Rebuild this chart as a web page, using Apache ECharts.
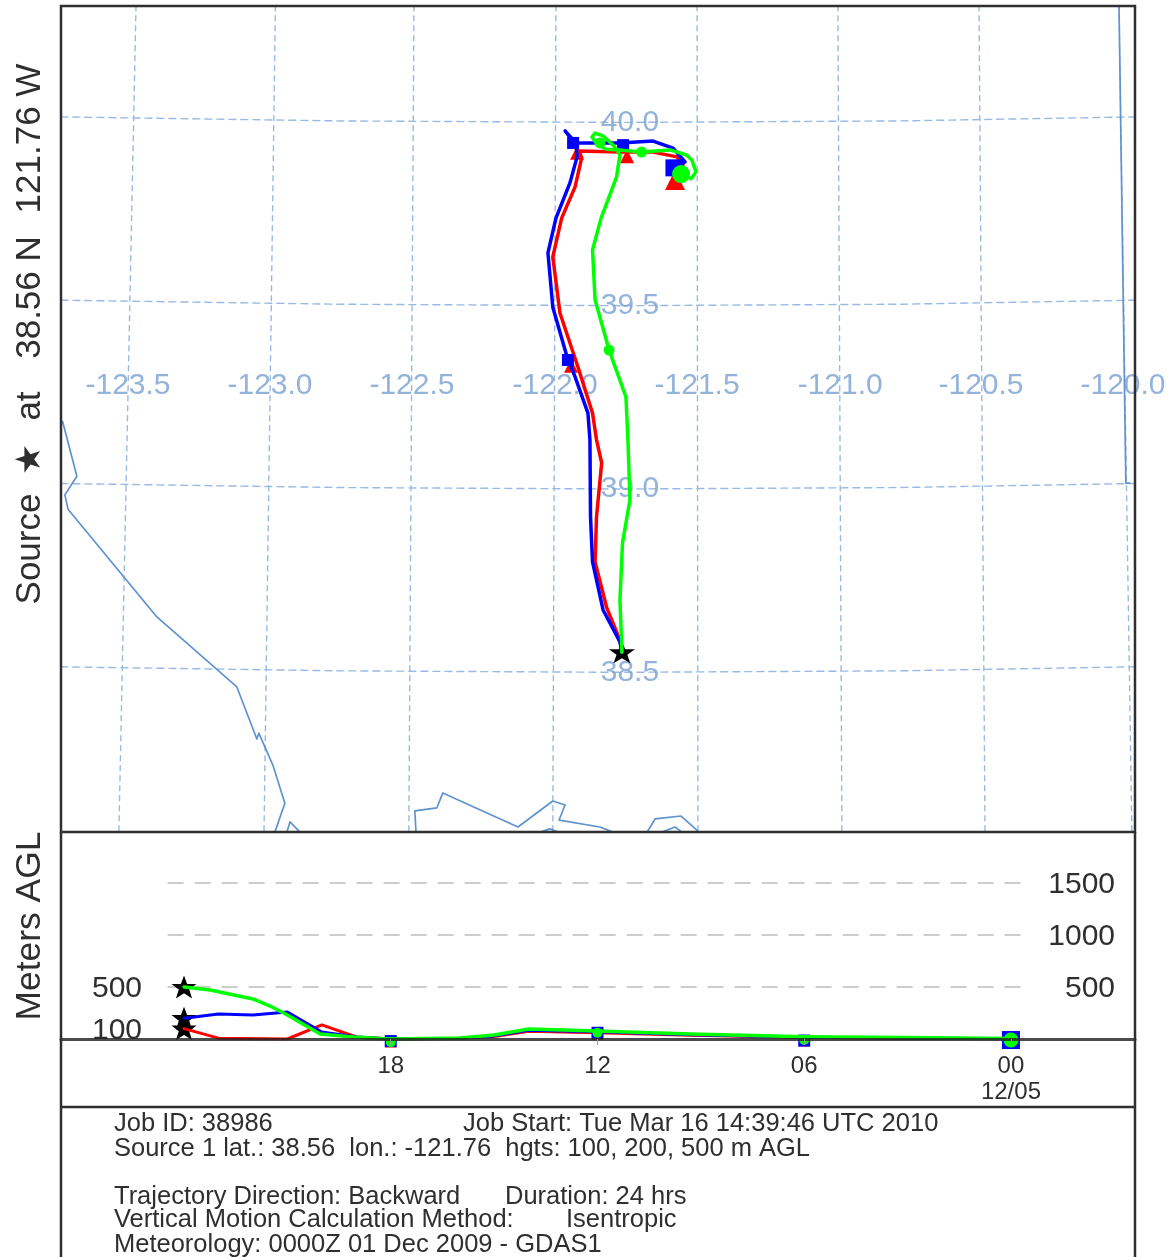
<!DOCTYPE html>
<html><head><meta charset="utf-8">
<style>html,body{margin:0;padding:0;background:#fff}#c{width:1172px;height:1257px;filter:blur(0.55px)}</style>
<script src="https://cdn.jsdelivr.net/npm/echarts@6/dist/echarts.min.js"></script>
</head><body><div id="c"></div>
<script>
// ---- plan view values: [longitude, latitude]
const sourcePoint = [[-121.762, 38.555]];
const redTrack = [[-121.762,38.555],[-121.769,38.588],[-121.816,38.678],[-121.856,38.801],[-121.851,38.924],[-121.833,39.071],[-121.851,39.134],[-121.865,39.207],[-121.916,39.333],[-121.979,39.480],[-122.004,39.633],[-121.973,39.739],[-121.926,39.824],[-121.903,39.903],[-121.912,39.922],[-121.769,39.919],[-121.653,39.919],[-121.569,39.906],[-121.548,39.884],[-121.576,39.851]];
const blueTrack = [[-121.762,38.555],[-121.769,38.583],[-121.828,38.670],[-121.865,38.801],[-121.872,38.924],[-121.874,39.134],[-121.881,39.207],[-121.926,39.306],[-121.954,39.360],[-122.004,39.496],[-122.021,39.644],[-121.993,39.739],[-121.944,39.835],[-121.919,39.906],[-121.923,39.944],[-121.944,39.960],[-121.961,39.977],[-121.923,39.944],[-121.769,39.944],[-121.653,39.949],[-121.583,39.930],[-121.541,39.892],[-121.583,39.876]];
const greenTrack = [[-121.762,38.555],[-121.769,38.697],[-121.760,38.853],[-121.734,38.970],[-121.741,39.134],[-121.748,39.251],[-121.807,39.379],[-121.856,39.516],[-121.865,39.652],[-121.835,39.739],[-121.781,39.851],[-121.769,39.911],[-121.790,39.936],[-121.828,39.963],[-121.856,39.971],[-121.867,39.960],[-121.849,39.941],[-121.818,39.927],[-121.769,39.925],[-121.693,39.919],[-121.594,39.925],[-121.536,39.911],[-121.517,39.897],[-121.503,39.865],[-121.520,39.846],[-121.555,39.862]];
const redMarks = [[-121.940,39.336],[-121.919,39.917],[-121.744,39.908]];
const redEnd = [[-121.576,39.843]];
const blueMarks = [[-121.951,39.352],[-121.933,39.944],[-121.758,39.938]];
const blueEnd = [[-121.580,39.876]];
const greenMarks = [[-121.807,39.379],[-121.839,39.944],[-121.693,39.919]];
const greenEnd = [[-121.555,39.859]];

const coastA = [[-123.720,39.184],[-123.670,39.035],[-123.712,38.984],[-123.701,38.945],[-123.390,38.651],[-123.110,38.460],[-123.040,38.318],[-123.033,38.334],[-122.984,38.247],[-122.942,38.143],[-122.977,38.064]];
const coastB = [[-122.935,38.064],[-122.924,38.092],[-122.889,38.064]];
const coastC = [[-122.483,38.064],[-122.487,38.122],[-122.410,38.130],[-122.389,38.171],[-122.126,38.078],[-122.004,38.149],[-121.961,38.138],[-121.982,38.097],[-121.839,38.078],[-121.793,38.064]];
const coastD = [[-122.049,38.064],[-122.014,38.073],[-121.986,38.064]];
const coastE = [[-121.674,38.064],[-121.646,38.100],[-121.555,38.108],[-121.492,38.064]];
const coastF = [[-121.622,38.064],[-121.576,38.078],[-121.552,38.064]];
const stateBorder = [[-120.022,40.318],[-119.998,39.016],[-119.984,39.016]];

const meridians = [
  [[-123.463,40.318],[-123.523,38.064]],
  [[-122.975,40.318],[-123.015,38.064]],
  [[-122.490,40.318],[-122.508,38.064]],
  [[-121.993,40.318],[-122.004,38.064]],
  [[-121.499,40.318],[-121.496,38.064]],
  [[-121.006,40.318],[-120.992,38.064]],
  [[-120.512,40.318],[-120.491,38.064]],
  [[-120.022,40.318],[-119.977,38.064]]
];
const parallels = [
  [[-123.726,40.015],[-122.749,40.004],[-121.769,40.000],[-120.789,40.004],[-119.966,40.015]],
  [[-123.726,39.515],[-122.749,39.504],[-121.769,39.500],[-120.789,39.504],[-119.966,39.515]],
  [[-123.726,39.015],[-122.749,39.004],[-121.769,39.000],[-120.789,39.004],[-119.966,39.015]],
  [[-123.726,38.515],[-122.749,38.504],[-121.769,38.500],[-120.789,38.504],[-119.966,38.515]]
];
const latLabels = ['40.0','39.5','39.0','38.5'];
const latLabelPoints = [[-121.734,40.004],[-121.734,39.505],[-121.734,39.005],[-121.734,38.504]];
const lonLabels = ['-123.5','-123.0','-122.5','-122.0','-121.5','-121.0','-120.5','-120.0'];
const lonLabelPoints = [[-123.491,39.286],[-122.994,39.286],[-122.497,39.286],[-121.996,39.286],[-121.499,39.286],[-120.998,39.286],[-120.505,39.286],[-120.008,39.286]];

// ---- height panel values: [hours before end, metres AGL]
const redHeight = [[24,100],[23,8],[21,0],[20,135],[19,19],[18,0],[16,6],[15,25],[14,75],[12,60],[9.3,35],[6,15],[2.3,6],[0,2]];
const blueHeight = [[24,200],[23,240],[22,231],[21,260],[20,67],[19,19],[18,0],[16,8],[15,30],[14,85],[12,70],[9.3,42],[6,18],[2.3,8],[0,3]];
const greenHeight = [[24,500],[23.24,471],[22,385],[21.5,317],[21,231],[20.5,135],[20.05,48],[19.1,19],[18,0],[16,10],[15,38],[14,96],[12,77],[9.3,48],[6,22],[2.3,12],[0,5]];
const heightStarts = [[24,100],[24,200],[24,500]];
const redHeightMarks = [[18,-25],[12,50],[6,-15]];
const blueHeightMarks = [[18,-20],[12,60],[6,-15]];
const greenHeightMarks = [[18,-30],[12,60],[6,-10]];
const redHeightEnd = [[0,-5]];
const blueHeightEnd = [[0,-10]];
const greenHeightEnd = [[0,-10]];
const heightRefLines = [[[24.46,500],[-0.5,500]],[[24.46,1000],[-0.5,1000]],[[24.46,1500],[-0.5,1500]]];
const timeTickHours = [18,12,6,0];
const timeTickLabels = ['18','12','06','00\n12/05'];
const rightHeightTicks = [500,1000,1500];
const leftHeightTicks = [100,500];

// ---- text
const sideTitleParts = [['Source',549],['\u2605',459],['at',406],['38.56 N',297.5],['121.76 W',138.5]];
const heightTitle = 'Meters AGL';
const infoLines = [
  ['Job ID: 38986',114,1122],
  ['Job Start: Tue Mar 16 14:39:46 UTC 2010',463,1122],
  ['Source 1 lat.: 38.56  lon.: -121.76  hgts: 100, 200, 500 m AGL',114,1147],
  ['Trajectory Direction: Backward',114,1195],
  ['Duration: 24 hrs',505,1195],
  ['Vertical Motion Calculation Method:',114,1218],
  ['Isentropic',566,1218],
  ['Meteorology: 0000Z 01 Dec 2009 - GDAS1',114,1243]
];

const RED='#ff0000', BLUE='#0000ff', GREEN='#00ff00', MAPBLUE='#5f93d0', GRIDBLUE='#98bae4', LABELBLUE='#78a0d2', DARK='#2f2f2f';
const FONT='"Liberation Sans", Arial, sans-serif';
const STAR='path://M50 0 L62 34 L98 34 L70 57 L81 93 L50 72 L19 93 L30 57 L2 34 L38 34 Z';

function line(data,color,width,idx,dash,z){
  return {type:'line',xAxisIndex:idx,yAxisIndex:idx,data,showSymbol:false,symbol:'none',silent:true,z:z||2,
    lineStyle:{color,width,type:dash||'solid',cap:'round',join:'round'}};
}
function marks(data,symbol,size,color,idx,z){
  return {type:'scatter',xAxisIndex:idx,yAxisIndex:idx,data,symbol,symbolSize:size,silent:true,z:z||2,clip:false,
    itemStyle:{color,opacity:1}};
}
function labels(points,texts){
  return {type:'scatter',xAxisIndex:0,yAxisIndex:0,symbolSize:1,silent:true,z:4,clip:false,itemStyle:{color:'rgba(0,0,0,0)'},
    data:points.map((p,i)=>({value:p,name:texts[i]})),
    label:{show:true,position:'inside',formatter:p=>p.name,color:LABELBLUE,fontSize:30,fontFamily:FONT,offset:[0,2]}};
}

const series=[];
meridians.forEach(m=>series.push(line(m,GRIDBLUE,1.4,0,[5,5],1)));
parallels.forEach(p=>series.push(line(p,GRIDBLUE,1.4,0,[7,5],1)));
[coastA,coastB,coastC,coastD,coastE,coastF,stateBorder].forEach(c=>series.push(line(c,MAPBLUE,1.7,0,null,1)));
series.push(labels(latLabelPoints,latLabels),labels(lonLabelPoints,lonLabels));
series.push(marks(sourcePoint,STAR,[26,22],'#000',0,5));
series.push(line(redTrack,RED,3.5,0,null,6),marks(redMarks,'triangle',14,RED,0,6),marks(redEnd,'triangle',20,RED,0,6));
series.push(line(blueTrack,BLUE,3.5,0,null,7),marks(blueMarks,'rect',12,BLUE,0,7),marks(blueEnd,'rect',17,BLUE,0,7));
series.push(line(greenTrack,GREEN,3.5,0,null,8),marks(greenMarks,'circle',11,GREEN,0,8),marks(greenEnd,'circle',18,GREEN,0,8));

heightRefLines.forEach(l=>series.push(line(l,'#bdbdbd',1.5,1,[15,12],1)));
series.push(marks(heightStarts,STAR,[25,23],'#000',1,5));
series.push(line(redHeight,RED,3,1,null,6),marks(redHeightMarks,'triangle',12,RED,1,6),marks(redHeightEnd,'triangle',18,RED,1,6));
series.push(line(blueHeight,BLUE,3,1,null,7),marks(blueHeightMarks,'rect',12,BLUE,1,7),marks(blueHeightEnd,'rect',18,BLUE,1,7));
series.push(line(greenHeight,GREEN,3.5,1,null,8),marks(greenHeightMarks,'circle',10,GREEN,1,8),marks(greenHeightEnd,'circle',15,GREEN,1,8));

const frame=(x1,y1,x2,y2)=>({type:'line',silent:true,z:20,shape:{x1,y1,x2,y2},style:{stroke:DARK,lineWidth:2.5}});
const yTickLabel=(ticks,margin)=>({show:true,inside:true,customValues:ticks,margin,fontSize:30,color:DARK,fontFamily:FONT,
  formatter:v=>'{t|'+v+'}',rich:{t:{fontSize:30,color:DARK,fontFamily:FONT,padding:[4,0,0,0]}}});
const chart=echarts.init(document.getElementById('c'),null,{renderer:'canvas'});
chart.setOption({
  animation:false,
  backgroundColor:'#fff',
  tooltip:{show:false},
  legend:{show:false},
  grid:[
    {left:61,top:6,width:1074,height:826,show:true,borderColor:DARK,borderWidth:2.5,backgroundColor:'transparent',z:9},
    {left:61,top:832,width:1074,height:207,show:false}
  ],
  xAxis:[
    {type:'value',gridIndex:0,min:-123.7256,max:-119.966,show:false,splitLine:{show:false}},
    {type:'value',gridIndex:1,min:-3.6,max:27.57,inverse:true,splitLine:{show:false},z:10,
      axisLine:{show:true,lineStyle:{color:'rgba(35,35,35,0.82)',width:3}},
      axisTick:{show:true,customValues:timeTickHours,length:6,inside:false,lineStyle:{color:'#999',width:1}},
      axisLabel:{show:true,customValues:timeTickHours,margin:14,fontSize:24,lineHeight:26,color:DARK,fontFamily:FONT,
        formatter:v=>timeTickLabels[timeTickHours.indexOf(v)]}}
  ],
  yAxis:[
    {type:'value',gridIndex:0,min:38.0644,max:40.3175,show:false,splitLine:{show:false}},
    {type:'value',gridIndex:1,min:0,max:1990,position:'right',splitLine:{show:false},axisLine:{show:false},axisTick:{show:false},
      axisLabel:yTickLabel(rightHeightTicks,20)},
    {type:'value',gridIndex:1,min:0,max:1990,position:'left',splitLine:{show:false},axisLine:{show:false},axisTick:{show:false},
      axisLabel:yTickLabel(leftHeightTicks,31)}
  ],
  series,
  graphic:[
    frame(61,832,61,1257),
    frame(1135,832,1135,1257),
    frame(61,1107,1135,1107),
    ...sideTitleParts.map(t=>({type:'text',silent:true,x:30,y:t[1],rotation:Math.PI/2,style:{text:t[0],font:'35px '+FONT,fill:DARK,align:'center',verticalAlign:'middle'}})),
    {type:'text',silent:true,x:30,y:926,rotation:Math.PI/2,style:{text:heightTitle,font:'35.4px '+FONT,fill:DARK,align:'center',verticalAlign:'middle'}},
    ...infoLines.map(t=>({type:'text',silent:true,x:t[1],y:t[2]+2,style:{text:t[0],font:'25.5px '+FONT,fill:DARK,align:'left',verticalAlign:'middle'}}))
  ]
});
</script></body></html>
